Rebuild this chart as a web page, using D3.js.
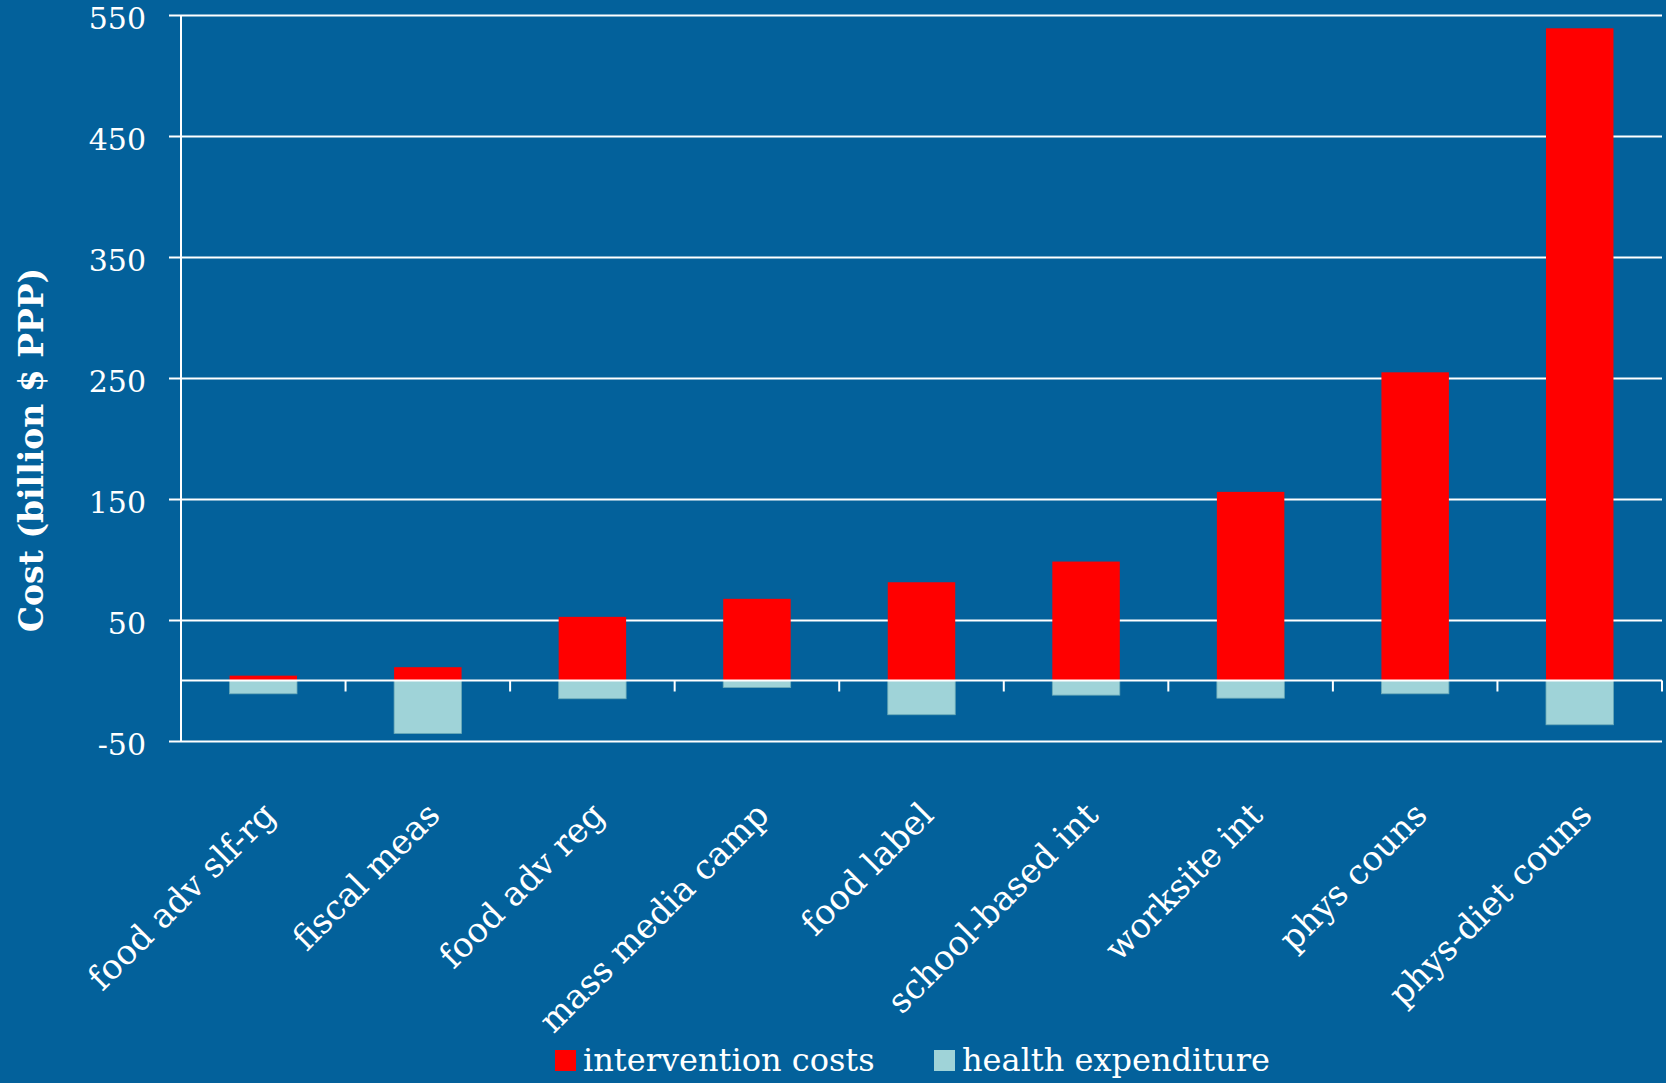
<!DOCTYPE html>
<html>
<head>
<meta charset="utf-8">
<script src="https://cdn.jsdelivr.net/npm/d3@7"></script>
<style>
  html, body { margin: 0; padding: 0; background: #03619b; }
  svg { display: block; }
  text { font-family: "DejaVu Serif", Georgia, serif; fill: #ffffff; }
</style>
</head>
<body>
<div id="chart"></div>
<script>
// categories and values
var categories = ["food adv slf-rg", "fiscal meas", "food adv reg", "mass media camp",
    "food label", "school-based int", "worksite int", "phys couns", "phys-diet couns"];
var interventionCosts = [4, 11, 52.6, 67.5, 81.2, 98.3, 155.9, 254.7, 539];
var healthExpenditure = [-11, -43.8, -15.1, -5.8, -28.3, -12.1, -14.6, -11, -36.6];
var yTicks = [-50, 50, 150, 250, 350, 450, 550];
var seriesNames = ["intervention costs", "health expenditure"];
var seriesColors = ["#ff0000", "#9fd3d8"];

var W = 1666, H = 1083;
var margin = {top: 15, right: 4, bottom: 342, left: 181};
var width = W - margin.left - margin.right,
    height = H - margin.top - margin.bottom;

var svg = d3.select("#chart").append("svg")
    .attr("width", W)
    .attr("height", H);

svg.append("rect").attr("width", W).attr("height", H).attr("fill", "#03619b");

var g = svg.append("g")
    .attr("transform", "translate(" + margin.left + "," + margin.top + ")");

// scales
var x = d3.scaleBand()
    .domain(categories)
    .range([0, width])
    .paddingInner(0.59)
    .paddingOuter(0.295);

var y = d3.scaleLinear()
    .domain([-50, 550])
    .range([height, 0]);

// gridlines + y axis labels (plain hyphen for negatives, like the original)
var yAxis = g.append("g")
    .call(d3.axisLeft(y).tickValues(yTicks).tickSize(-width - 12)
        .tickFormat(function(d) { return String(d); }))
    .attr("transform", "translate(-12,0)");
yAxis.select(".domain").remove();
yAxis.selectAll(".tick line")
    .attr("stroke", "#ffffff")
    .attr("stroke-width", 2)
    .attr("x1", 0)
    .attr("x2", width + 12);
yAxis.selectAll(".tick text")
    .attr("x", -23)
    .attr("dy", "0.45em")
    .style("font-size", "30px")
    .style("font-family", "\"DejaVu Serif\", Georgia, serif")
    .attr("fill", "#ffffff");

// vertical axis line
g.append("line")
    .attr("x1", 0).attr("x2", 0)
    .attr("y1", y(550)).attr("y2", y(-50))
    .attr("stroke", "#ffffff").attr("stroke-width", 2);

// bars
g.selectAll(".barCost")
    .data(categories)
    .enter().append("rect")
    .attr("class", "barCost")
    .attr("x", function(d) { return x(d); })
    .attr("width", x.bandwidth())
    .attr("y", function(d, i) { return y(interventionCosts[i]); })
    .attr("height", function(d, i) { return y(0) - y(interventionCosts[i]); })
    .attr("fill", seriesColors[0]);

g.selectAll(".barHealth")
    .data(categories)
    .enter().append("rect")
    .attr("class", "barHealth")
    .attr("x", function(d) { return x(d); })
    .attr("width", x.bandwidth())
    .attr("y", y(0))
    .attr("height", function(d, i) { return y(healthExpenditure[i]) - y(0); })
    .attr("fill", seriesColors[1])
    .attr("stroke", "#6aaab8")
    .attr("stroke-width", 0.8);

// zero line with category ticks
var step = x.step();
var xAxis = g.append("g")
    .attr("transform", "translate(0," + y(0) + ")");
xAxis.append("line")
    .attr("x1", 0).attr("x2", width)
    .attr("stroke", "#ffffff").attr("stroke-width", 2);
xAxis.selectAll(".catTick")
    .data(d3.range(categories.length + 1))
    .enter().append("line")
    .attr("class", "catTick")
    .attr("x1", function(d) { return d * step; })
    .attr("x2", function(d) { return d * step; })
    .attr("y1", 0).attr("y2", 11)
    .attr("stroke", "#ffffff").attr("stroke-width", 2);

// rotated category labels
g.selectAll(".catLabel")
    .data(categories)
    .enter().append("text")
    .attr("class", "catLabel")
    .attr("text-anchor", "end")
    .attr("transform", function(d) {
        return "translate(" + (x(d) + x.bandwidth() / 2 + 14) + "," + (height + 76) + ") rotate(-45)";
    })
    .style("font-size", "34px")
    .text(function(d) { return d; });

// y axis title
svg.append("text")
    .attr("text-anchor", "middle")
    .attr("transform", "translate(43,450) rotate(-90)")
    .style("font-size", "33px")
    .style("font-weight", "bold")
    .text("Cost (billion $ PPP)");

// legend
var legend = svg.append("g");
var legendX = [555, 934];
seriesNames.forEach(function(name, i) {
    legend.append("rect")
        .attr("x", legendX[i]).attr("y", 1050)
        .attr("width", 21).attr("height", 21)
        .attr("fill", seriesColors[i]);
    legend.append("text")
        .attr("x", legendX[i] + 28).attr("y", 1071)
        .style("font-size", "32px")
        .text(name);
});
</script>
</body>
</html>
